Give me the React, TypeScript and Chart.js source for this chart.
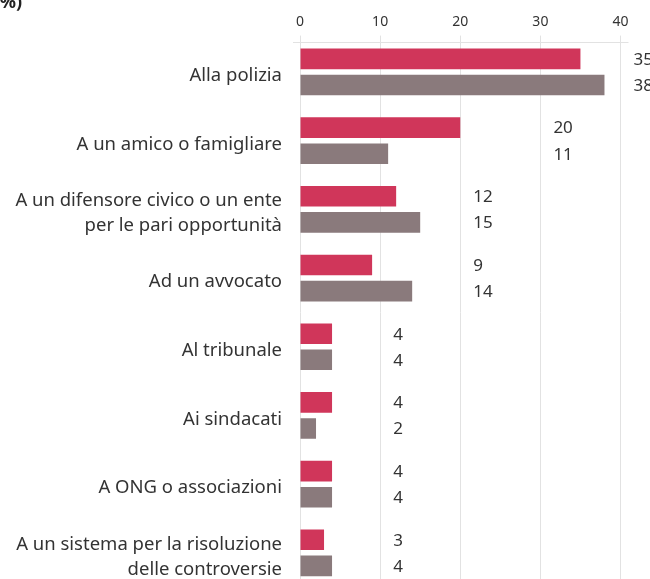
import React, { useEffect, useRef } from "react";
import { Chart, registerables } from "chart.js";

Chart.register(...registerables);

const categories: (string | string[])[] = [
  "Alla polizia",
  "A un amico o famigliare",
  ["A un difensore civico o un ente", "per le pari opportunità"],
  "Ad un avvocato",
  "Al tribunale",
  "Ai sindacati",
  "A ONG o associazioni",
  ["A un sistema per la risoluzione", "delle controversie"],
];
const seriesA: number[] = [35, 20, 12, 9, 4, 4, 4, 3];
const seriesB: number[] = [38, 11, 15, 14, 4, 2, 4, 4];
const seriesNames = ["Serie 1", "Serie 2"];
const xTicks = [0, 10, 20, 30, 40];
const titleText = "(%)";

const FONT = "'Noto Sans', sans-serif";
const TEXT = "#333333";

const extras = {
  id: "extras",
  beforeDatasetsDraw(chart: any) {
    const { ctx, chartArea } = chart;
    ctx.save();
    ctx.strokeStyle = "#e2e2e2";
    ctx.lineWidth = 1;
    ctx.beginPath();
    ctx.moveTo(chartArea.left - 7, Math.round(chartArea.top + 4) + 0.5);
    ctx.lineTo(chartArea.right + 8, Math.round(chartArea.top + 4) + 0.5);
    ctx.stroke();
    ctx.restore();
  },
  afterDraw(chart: any) {
    const { ctx } = chart;
    const x = chart.scales.x;
    const yMeta0 = chart.getDatasetMeta(0);
    const yMeta1 = chart.getDatasetMeta(1);
    ctx.save();
    ctx.fillStyle = TEXT;
    ctx.font = `17px ${FONT}`;
    ctx.textAlign = "left";
    ctx.textBaseline = "middle";
    categories.forEach((_, i) => {
      const mx = Math.max(seriesA[i], seriesB[i]);
      const px = x.getPixelForValue(Math.floor(mx / 10) * 10 + 10) + 13;
      ctx.fillText(String(seriesA[i]), px, yMeta0.data[i].y + 1);
      ctx.fillText(String(seriesB[i]), px, yMeta1.data[i].y + 1);
    });
    ctx.font = `bold 18px ${FONT}`;
    ctx.textAlign = "right";
    ctx.textBaseline = "alphabetic";
    ctx.fillStyle = "#222";
    ctx.fillText(titleText, 22, 8);
    ctx.restore();
  },
};

export default function App() {
  const ref = useRef<HTMLCanvasElement>(null);
  useEffect(() => {
    document.body.style.margin = "0";
    document.documentElement.style.overflow = "hidden";
    const chart = new Chart(ref.current!, {
      type: "bar",
      data: {
        labels: categories as any,
        datasets: [
          {
            label: seriesNames[0],
            data: seriesA,
            backgroundColor: "#d0365a",
            categoryPercentage: 0.76,
            barPercentage: 0.79,
          },
          {
            label: seriesNames[1],
            data: seriesB,
            backgroundColor: "#8a7a7c",
            categoryPercentage: 0.76,
            barPercentage: 0.79,
          },
        ],
      },
      options: {
        indexAxis: "y",
        responsive: false,
        animation: false,
        layout: { padding: { left: 0, right: 29.5, top: 0, bottom: 2.8 } },
        plugins: {
          legend: { display: false },
          tooltip: { enabled: false },
          title: { display: false },
        },
        scales: {
          x: {
            position: "top",
            min: 0,
            max: 40,
            afterBuildTicks(scale: any) {
              scale.ticks = xTicks.map((v) => ({ value: v }));
            },
            afterFit(scale: any) {
              scale.height = 37.6;
              scale.paddingLeft = 0;
              scale.paddingRight = 0;
              scale.paddingTop = 0;
              scale.paddingBottom = 0;
            },
            grid: {
              color: "#e2e2e2",
              lineWidth: 1,
              tickLength: 2,
              drawTicks: true,
            },
            border: { display: false },
            ticks: {
              padding: 5,
              color: TEXT,
              font: { family: FONT, size: 14 },
            },
          },
          y: {
            afterFit(scale: any) {
              scale.width = 300;
              scale.paddingLeft = 0;
              scale.paddingRight = 0;
              scale.paddingTop = 0;
              scale.paddingBottom = 0;
            },
            grid: { display: false, drawTicks: false },
            border: { display: false },
            ticks: {
              padding: 18,
              labelOffset: 4,
              color: TEXT,
              font: { family: FONT, size: 18.5, lineHeight: 1.35 },
            },
          },
        },
      },
      plugins: [extras],
    });
    return () => chart.destroy();
  }, []);
  return (
    <div style={{ width: 650, height: 579, overflow: "hidden", position: "relative" }}>
      <canvas ref={ref} width={650} height={590} style={{ display: "block" }} />
    </div>
  );
}
